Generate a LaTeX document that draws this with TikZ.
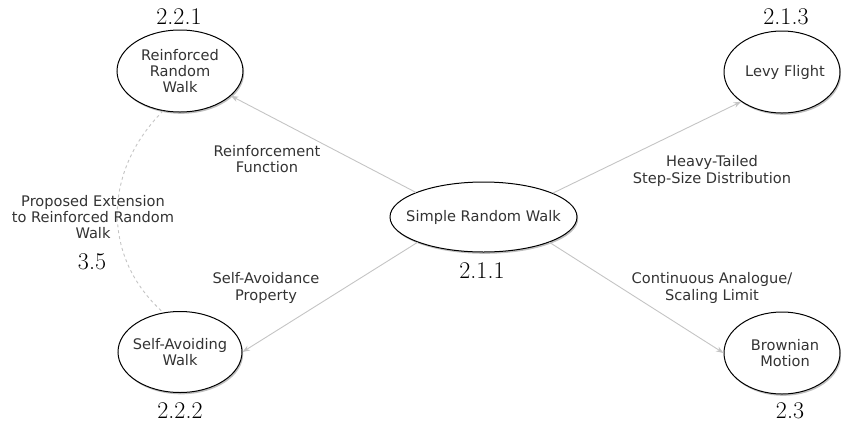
\documentclass[tikz,border=0pt]{standalone}
\usepackage{fontspec}
\newfontfamily\lblfont{DejaVu Sans}
\usetikzlibrary{shapes.geometric,arrows.meta,shadows}

\definecolor{txt}{HTML}{333333}
\definecolor{edge}{HTML}{C4C4C4}

\tikzset{
  topic/.style={ellipse, draw=black, line width=1pt, fill=white, inner sep=0pt,
    drop shadow={shadow xshift=1.2pt, shadow yshift=-1.8pt, opacity=0.25, fill=black}},
  caption/.style={align=center, font=\lblfont\fontsize{14.6}{16.4}\selectfont,
    text=txt, inner sep=0pt},
  link/.style={draw=edge, line width=0.9pt, -{Stealth[length=7.5pt,width=5.5pt]}},
  proposal/.style={draw=edge, line width=0.9pt, dash pattern=on 3pt off 3pt},
  secnum/.style={font=\fontsize{24}{24}\selectfont, inner sep=0pt}
}

\begin{document}
\begin{tikzpicture}[x=1pt,y=-1pt]
  \useasboundingbox (0,0) rectangle (841,424);

  % topic ellipses
  \node[topic, minimum width=187pt, minimum height=70pt] (srw)   at (483.5,217) {};
  \node[topic, minimum width=126pt, minimum height=82pt] (rrw)   at (180,71) {};
  \node[topic, minimum width=116pt, minimum height=82pt] (levy)  at (782,72) {};
  \node[topic, minimum width=124pt, minimum height=81pt] (saw)   at (180,352) {};
  \node[topic, minimum width=116pt, minimum height=82pt] (brown) at (782,353) {};

  % topic names
  \node[caption] (srwname)   at (srw.center)   {Simple Random Walk};
  \node[caption] (rrwname)   at (rrw.center)   {Reinforced\\Random\\Walk};
  \node[caption] (levyname)  at ([xshift=3pt]levy.center)  {Levy Flight};
  \node[caption] (sawname)   at (saw.center)   {Self-Avoiding\\Walk};
  \node[caption] (brownname) at ([xshift=3pt]brown.center) {Brownian\\Motion};

  % section numbers
  \node[secnum] (n221) at (179,17)  {2.2.1};
  \node[secnum] (n213) at (786,17)  {2.1.3};
  \node[secnum] (n211) at (482,271) {2.1.1};
  \node[secnum] (n222) at (180,411) {2.2.2};
  \node[secnum] (n23)  at (790,411) {2.3};
  \node[secnum] (n35)  at (92,262)  {3.5};

  % relations
  \draw[link] (srw.160) -- (rrw.-26);
  \draw[link] (srw.19)  -- (levy.216);
  \draw[link] (srw.201) -- (saw.east);
  \draw[link] (srw.-21) -- (brown.west);
  \draw[proposal] (rrw.247) .. controls (102,172) and (102,258) .. (saw.113);

  % relation labels
  \node[caption] (l1) at (267,159) {Reinforcement\\Function};
  \node[caption] (l2) at (712,171) {Heavy-Tailed\\Step-Size Distribution};
  \node[caption] (l3) at (266,288) {Self-Avoidance\\Property};
  \node[caption] (l4) at (712,288) {Continuous Analogue/\\Scaling Limit};
  \node[caption] (l5) at (93,217)  {Proposed Extension\\to Reinforced Random\\Walk};
\end{tikzpicture}
\end{document}
